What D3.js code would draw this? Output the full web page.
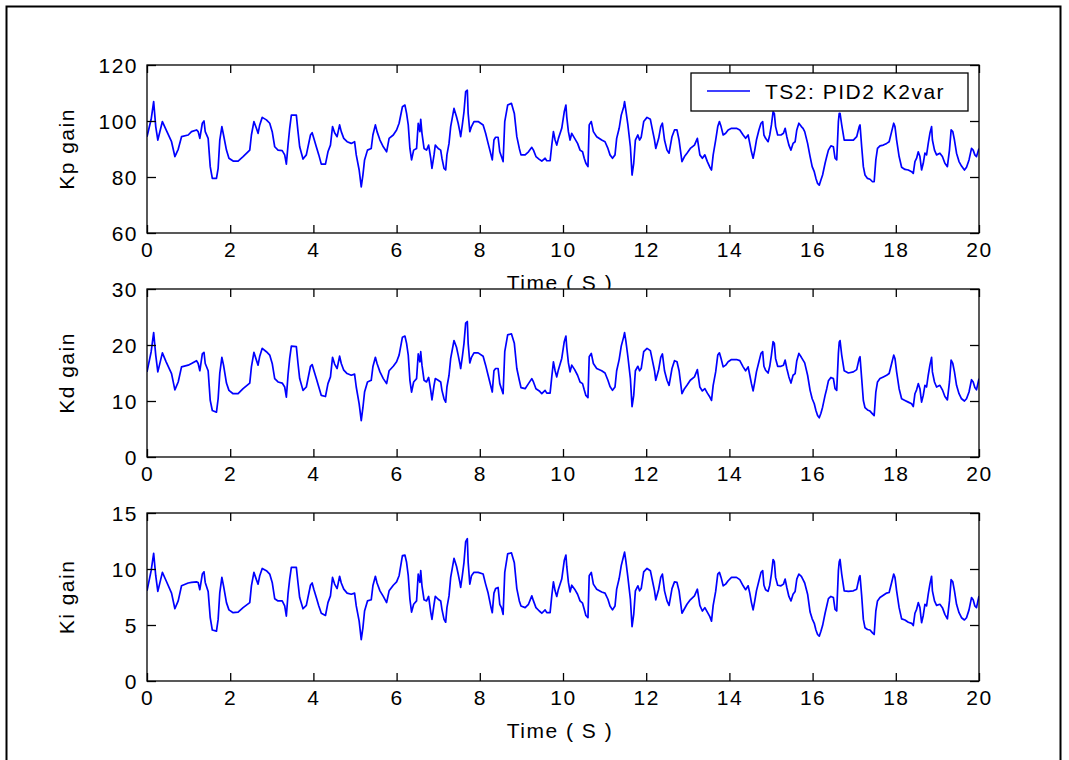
<!DOCTYPE html>
<html>
<head>
<meta charset="utf-8">
<script src="https://cdn.jsdelivr.net/npm/d3@7"></script>
<style>
  body { margin: 0; background: #fff; }
  text { font-family: "Liberation Sans", Arial, sans-serif; font-size: 21px; letter-spacing: 1.5px; fill: #000; }
</style>
</head>
<body>
<svg id="fig" width="1069" height="760"></svg>
<script>
// Sample times (s)
const time = [
  0.00,0.10,0.16,0.21,0.26,0.37,0.46,0.59,0.67,0.75,
  0.83,0.99,1.07,1.19,1.23,1.27,1.33,1.37,1.40,1.47,
  1.52,1.57,1.67,1.71,1.75,1.80,1.84,1.91,1.97,2.07,
  2.19,2.31,2.47,2.51,2.57,2.63,2.67,2.71,2.77,2.87,
  2.95,3.01,3.07,3.15,3.25,3.31,3.35,3.39,3.43,3.47,
  3.59,3.63,3.67,3.75,3.83,3.93,3.97,4.01,4.07,4.13,
  4.19,4.29,4.35,4.41,4.46,4.51,4.57,4.63,4.67,4.73,
  4.81,4.91,4.99,5.03,5.10,5.15,5.19,5.23,5.30,5.39,
  5.43,5.49,5.53,5.60,5.68,5.76,5.82,5.92,6.00,6.06,
  6.14,6.20,6.24,6.28,6.32,6.36,6.41,6.48,
  6.52,6.56,6.58,6.61,6.66,6.72,6.77,6.82,6.85,6.90,
  6.93,7.00,7.06,7.09,7.14,7.18,7.21,7.26,7.30,7.38,
  7.44,7.48,7.52,7.54,7.58,7.62,7.66,7.70,7.72,7.76,
  7.80,7.86,7.96,8.08,8.14,8.20,8.27,8.30,8.34,8.38,
  8.44,8.48,8.52,8.56,8.60,8.67,8.76,8.83,8.89,8.95,
  8.99,9.09,9.17,9.25,9.29,9.35,9.43,9.49,9.57,9.61,
  9.69,9.73,9.77,9.81,9.85,9.89,9.97,10.03,10.07,10.09,
  10.13,10.17,10.21,10.28,10.35,10.41,10.47,10.51,10.55,10.60,
  10.63,10.68,10.73,10.81,10.93,11.01,11.08,11.13,11.19,11.25,
  11.29,11.35,11.40,11.46,11.48,11.51,11.56,11.62,11.66,11.70,
  11.74,11.80,11.84,11.88,11.94,12.02,12.10,12.15,12.20,12.23,
  12.30,12.35,12.39,12.44,12.50,12.55,12.62,12.68,12.74,12.79,
  12.86,12.92,12.98,13.06,13.16,
  13.23,13.29,13.35,13.41,13.47,13.53,13.57,13.61,13.67,13.72,
  13.76,13.80,13.85,13.91,13.97,14.05,14.17,14.25,14.33,14.39,
  14.45,14.49,14.53,14.57,14.61,14.65,14.71,14.76,14.80,14.83,
  14.87,14.93,14.97,15.01,15.05,15.08,15.11,15.16,15.24,15.30,
  15.34,15.38,15.43,15.48,15.53,15.58,15.62,15.67,15.73,15.77,
  15.81,15.88,15.94,15.99,16.04,16.08,16.12,16.16,16.20,16.24,
  16.30,16.34,16.38,16.44,16.50,16.54,16.58,16.62,16.64,16.66,
  16.70,16.76,16.86,16.98,17.06,17.12,17.14,17.18,17.22,17.26,
  17.32,17.38,17.44,17.48,17.52,17.56,17.62,17.70,17.78,17.84,
  17.90,17.95,17.98,18.02,18.08,18.14,18.22,18.30,18.38,18.42,
  18.46,18.50,18.54,18.58,18.62,18.66,18.70,18.74,18.78,18.82,
  18.86,18.88,18.93,18.98,19.06,19.12,19.18,19.24,19.29,19.33,
  19.37,19.41,19.46,19.52,19.58,19.65,19.70,19.76,19.82,19.86,
  19.90,19.94,20.00
];

// Proportional gain Kp
const kp = [
  94.4,100.6,106.9,98.0,93.2,99.8,96.8,92.6,87.3,89.9,
  94.4,95.0,96.2,96.8,96.2,93.8,99.2,100.0,96.2,93.8,
  83.7,79.5,79.5,83.1,93.2,98.0,95.0,89.6,86.7,85.7,
  85.7,87.3,89.6,95.0,99.8,97.4,95.6,98.6,101.3,100.4,
  99.2,96.2,90.8,89.6,89.4,87.9,84.6,91.4,97.4,102.1,
  102.1,96.2,90.8,86.4,87.9,95.0,95.8,93.8,90.8,87.9,
  84.6,84.6,89.0,91.4,98.0,95.8,94.4,98.6,96.2,93.8,
  92.6,92.0,92.6,87.9,82.5,76.5,80.7,86.1,89.6,90.2,
  95.0,98.6,96.2,93.2,90.8,89.0,93.8,95.0,96.8,99.2,
  105.1,105.7,102.7,98.6,90.2,86.1,89.6,90.2,
  99.2,96.2,100.6,95.6,90.2,89.6,91.4,86.7,83.1,87.9,
  91.4,90.2,89.6,86.7,83.1,82.5,87.9,92.0,98.0,104.5,
  101.5,99.2,96.2,94.4,98.6,103.3,110.5,111.0,102.7,96.2,
  98.0,99.8,99.8,98.6,95.6,92.0,87.9,86.1,93.2,94.2,
  94.2,89.0,87.3,85.5,99.8,105.7,106.3,102.7,94.4,90.2,
  87.9,87.9,89.0,90.6,89.6,87.3,86.3,85.7,86.7,85.8,
  85.8,91.4,96.2,93.2,91.4,93.8,97.4,103.3,105.7,101.5,
  96.2,93.2,95.6,93.8,92.0,89.6,89.0,86.7,84.9,83.7,
  98.6,99.8,96.2,94.4,93.2,92.6,90.2,87.9,86.7,87.9,
  93.8,97.4,102.1,105.1,106.9,103.9,98.6,90.8,80.7,84.9,
  93.2,95.0,93.2,94.2,99.8,101.3,100.6,96.8,93.2,90.2,
  93.8,98.0,99.2,93.2,89.6,88.5,94.4,96.8,96.8,93.2,
  85.5,87.3,88.5,90.2,91.4,
  93.8,87.9,86.7,87.9,85.5,83.5,82.5,87.9,93.2,98.0,
  99.8,98.0,95.0,95.6,96.8,97.4,97.4,96.8,95.0,93.8,
  95.0,92.0,89.0,86.7,89.6,93.2,96.8,99.2,99.8,95.0,
  93.8,92.6,95.0,98.6,103.3,102.7,98.0,95.0,95.0,95.6,
  97.4,94.4,91.4,89.6,92.0,92.6,96.8,99.2,98.0,97.4,
  96.2,92.0,87.3,83.7,81.9,79.5,77.7,77.1,78.9,80.7,
  84.9,87.3,89.6,91.1,90.8,86.7,86.1,99.8,102.7,102.7,
  98.6,93.2,93.2,93.2,94.4,98.0,98.6,90.8,83.7,80.7,
  79.5,79.2,78.3,78.3,86.1,90.2,91.1,91.4,92.0,92.6,
  96.2,99.2,98.0,93.2,87.3,83.5,82.7,82.5,81.9,81.3,
  85.5,86.7,89.0,87.3,82.5,84.9,88.5,87.9,92.0,95.6,
  98.0,93.2,89.6,87.9,88.5,87.3,84.9,83.7,89.6,96.8,
  96.2,93.2,88.5,85.5,83.9,82.5,83.5,86.1,90.2,89.6,
  87.9,87.3,90.2
];

// Derivative gain Kd
const kd = [
  15.2,18.8,22.2,18.2,15.2,18.6,17.0,14.9,12.0,13.4,
  16.1,16.4,16.7,17.2,16.7,15.4,18.4,18.7,16.7,15.4,
  10.1,8.3,8.0,10.4,15.0,17.8,16.4,13.2,11.9,11.3,
  11.3,12.2,13.2,16.1,18.7,17.3,16.4,18.0,19.4,18.8,
  18.2,16.7,14.0,13.4,13.2,12.5,10.7,14.6,17.6,19.8,
  19.7,16.7,14.0,11.9,12.5,16.2,16.5,15.5,14.0,12.5,
  11.0,10.8,13.1,14.3,17.8,16.6,15.8,18.0,16.7,15.5,
  14.9,14.6,14.8,12.5,9.5,6.5,8.8,11.6,13.4,13.7,
  16.1,17.8,16.7,15.2,14.0,13.1,15.4,16.2,17.0,18.2,
  21.4,21.6,20.3,18.2,13.7,11.6,13.4,14.0,
  18.4,17.0,18.8,16.4,13.7,13.4,14.2,11.9,10.2,12.8,
  14.0,13.7,13.4,11.9,10.4,9.8,12.5,14.6,17.6,20.8,
  19.6,18.2,16.7,15.8,17.9,20.3,23.9,24.2,20.3,16.8,
  17.8,18.6,18.6,18.0,16.4,14.6,12.5,11.6,15.4,15.8,
  15.8,13.1,12.2,11.3,18.8,21.8,22.0,20.3,15.8,13.7,
  12.4,12.2,13.1,14.0,13.4,12.2,11.8,11.3,11.9,11.4,
  11.4,14.3,17.0,15.4,14.3,15.6,17.6,20.6,21.6,19.6,
  16.8,15.2,16.4,15.6,14.6,13.4,13.1,12.0,11.0,10.6,
  17.9,18.5,16.7,15.8,15.4,15.0,13.7,12.6,11.9,12.5,
  15.4,17.4,19.8,21.5,22.2,20.8,17.9,14.0,9.0,11.0,
  15.4,16.2,15.4,15.8,18.8,19.4,19.0,17.2,15.4,13.7,
  15.6,17.8,18.4,15.4,13.7,12.8,15.8,17.2,17.0,15.4,
  11.3,12.2,12.8,13.7,14.3,
  15.6,12.5,11.8,12.2,11.4,10.7,10.1,12.8,15.2,18.2,
  18.6,17.6,16.1,16.4,17.0,17.4,17.4,17.2,16.1,15.4,
  16.1,14.6,13.1,11.8,13.4,15.2,17.0,18.5,18.8,16.2,
  15.5,15.0,16.2,18.2,20.6,20.3,17.6,16.2,16.2,16.4,
  17.3,15.8,14.3,13.2,14.6,14.9,17.2,18.5,17.8,17.3,
  16.8,14.6,11.9,10.4,9.5,8.3,7.4,7.0,7.8,8.9,
  11.0,12.2,13.6,14.2,14.0,12.2,11.9,18.5,20.5,20.8,
  18.2,15.4,15.0,15.2,15.6,17.6,17.9,14.0,10.1,8.8,
  8.4,8.2,7.7,7.4,11.6,13.4,14.0,14.3,14.6,14.9,
  16.7,18.2,17.6,15.2,12.2,10.4,10.1,9.8,9.5,9.0,
  11.3,12.0,13.1,12.2,9.8,11.0,12.8,12.5,14.6,16.4,
  17.8,15.2,13.4,12.5,12.8,12.0,10.8,10.2,13.4,17.3,
  16.7,15.2,12.8,11.3,10.4,10.0,10.4,11.6,13.8,13.4,
  12.4,12.0,14.0
];

// Integral gain Ki
const ki = [
  8.05,9.85,11.4,9.4,8.0,9.7,8.95,7.85,6.45,7.15,
  8.5,8.75,8.8,8.85,8.8,8.15,9.55,9.75,8.8,8.0,
  5.65,4.55,4.45,5.5,7.9,9.25,8.5,7.0,6.35,6.1,
  6.15,6.55,7.0,8.5,9.7,9.05,8.65,9.4,10.05,9.85,
  9.55,8.8,7.35,7.15,7.15,6.7,5.8,7.75,9.1,10.15,
  10.15,8.75,7.45,6.45,6.75,8.55,8.75,8.2,7.45,6.7,
  6.05,5.85,7.0,7.6,9.25,8.65,8.25,9.35,8.75,8.2,
  7.85,7.75,7.85,6.7,5.35,3.7,4.75,6.25,7.15,7.25,
  8.5,9.35,8.75,8.05,7.55,7.0,8.05,8.55,8.85,9.4,
  11.2,11.25,10.6,9.4,7.3,6.15,6.85,7.15,
  9.55,8.8,9.85,8.5,7.25,7.15,7.55,6.15,5.5,6.85,
  7.55,7.3,7.15,6.4,5.5,5.25,6.55,7.6,9.25,10.95,
  10.25,9.55,8.8,8.35,9.4,10.6,12.45,12.7,10.6,8.65,
  9.4,9.7,9.7,9.55,8.65,7.85,6.55,6.1,7.85,8.25,
  8.35,6.85,6.55,5.95,9.7,11.35,11.45,10.55,8.25,7.15,
  6.7,6.55,6.85,7.6,7.15,6.55,6.25,6.05,6.35,6.1,
  6.1,7.6,8.85,8.05,7.55,8.2,9.1,10.75,11.25,10.25,
  8.8,7.95,8.55,8.2,7.75,7.15,6.95,6.4,5.85,5.65,
  9.4,9.7,8.65,8.2,7.95,7.85,7.3,6.7,6.35,6.7,
  8.2,9.15,10.3,11.2,11.5,10.75,9.25,7.3,4.85,5.95,
  8.05,8.5,8.05,8.25,9.75,10.05,9.85,8.95,8.05,7.25,
  8.2,9.25,9.55,8.05,7.15,6.75,8.25,8.85,8.8,8.05,
  6.05,6.45,6.85,7.25,7.6,
  8.2,6.75,6.25,6.55,6.15,5.75,5.35,6.75,8.0,9.55,
  9.7,9.25,8.5,8.65,8.95,9.25,9.25,9.05,8.5,8.15,
  8.5,7.85,7.0,6.35,7.15,8.05,8.95,9.7,9.85,8.55,
  8.15,8.0,8.55,9.55,10.85,10.65,9.25,8.55,8.5,8.65,
  9.1,8.35,7.55,7.15,7.75,8.0,9.1,9.55,9.35,9.05,
  8.75,7.75,6.15,5.55,5.15,4.55,4.15,4.0,4.45,4.95,
  6.05,6.7,7.35,7.55,7.45,6.4,6.25,9.85,10.65,10.85,
  9.55,8.05,8.0,8.05,8.2,9.25,9.4,7.6,5.5,4.75,
  4.6,4.55,4.3,4.15,6.25,7.15,7.45,7.65,7.85,7.9,
  8.8,9.55,9.25,8.05,6.55,5.55,5.45,5.25,5.15,4.95,
  6.05,6.4,7.0,6.55,5.2,5.85,6.85,6.7,7.75,8.65,
  9.35,8.05,7.15,6.75,6.85,6.55,5.95,5.55,7.15,9.05,
  8.85,8.05,6.85,6.1,5.65,5.45,5.65,6.35,7.45,7.25,
  6.7,6.55,7.6
];

const timeTicks = [0, 2, 4, 6, 8, 10, 12, 14, 16, 18, 20];
const kpTicks = [60, 80, 100, 120];
const kdTicks = [0, 10, 20, 30];
const kiTicks = [0, 5, 10, 15];
const legendLabel = "TS2: PID2 K2var";
const xLabel = "Time ( S )";

// Subplot layout
const left = 147, right = 979, plotH = 168;
const panels = [
  { values: kp, domain: [60, 120], ticks: kpTicks, ylabel: "Kp gain", top: 65,  xlabel: true, legend: true },
  { values: kd, domain: [0, 30],   ticks: kdTicks, ylabel: "Kd gain", top: 289, xlabel: false },
  { values: ki, domain: [0, 15],   ticks: kiTicks, ylabel: "Ki gain", top: 513, xlabel: true }
];

const svg = d3.select("#fig");
svg.append("rect").attr("width", 1069).attr("height", 760).attr("fill", "#fff");

// Figure frame
svg.append("rect")
  .attr("x", 6.5).attr("y", 6.5).attr("width", 1054).attr("height", 800)
  .attr("fill", "none").attr("stroke", "#000").attr("stroke-width", 2);

const x = d3.scaleLinear().domain([0, 20]).range([left, right]);
const xTickLen = 8, yTickLen = 9;

panels.forEach((p, i) => {
  const top = p.top, bottom = top + plotH;
  const y = d3.scaleLinear().domain(p.domain).range([bottom, top]);
  const g = svg.append("g");

  g.append("rect").attr("x", left).attr("y", top)
    .attr("width", right - left).attr("height", plotH).attr("fill", "#fff");

  const clipId = "clip" + i;
  g.append("clipPath").attr("id", clipId).append("rect")
    .attr("x", left).attr("y", top).attr("width", right - left).attr("height", plotH);

  const pts = d3.zip(time, p.values);
  g.append("path")
    .datum(pts)
    .attr("clip-path", `url(#${clipId})`)
    .attr("fill", "none").attr("stroke", "#0000ff").attr("stroke-width", 1.7)
    .attr("stroke-linejoin", "round")
    .attr("d", d3.line().x(d => x(d[0])).y(d => y(d[1])));

  // Bottom axis with labels, inward ticks
  const xb = g.append("g").attr("transform", `translate(0,${bottom})`)
    .call(d3.axisBottom(x).tickValues(timeTicks).tickSize(-xTickLen).tickPadding(8).tickFormat(d3.format("d")));
  const xt = g.append("g").attr("transform", `translate(0,${top})`)
    .call(d3.axisTop(x).tickValues(timeTicks).tickSize(-xTickLen).tickFormat(""));
  const yl = g.append("g").attr("transform", `translate(${left},0)`)
    .call(d3.axisLeft(y).tickValues(p.ticks).tickSize(-yTickLen).tickPadding(10).tickFormat(d3.format("d")));
  const yr = g.append("g").attr("transform", `translate(${right},0)`)
    .call(d3.axisRight(y).tickValues(p.ticks).tickSize(-yTickLen).tickFormat(""));

  [xb, xt, yl, yr].forEach(a => {
    a.select(".domain").remove();
    a.selectAll("line").attr("stroke", "#000").attr("stroke-width", 1.3);
    a.selectAll("text").attr("font-family", null).attr("font-size", null).attr("fill", "#000");
  });
  xb.selectAll("text").attr("dy", null).attr("y", 24);
  yl.selectAll("text").attr("dy", "0.35em").attr("x", -9);

  // Box
  g.append("rect").attr("x", left).attr("y", top)
    .attr("width", right - left).attr("height", plotH)
    .attr("fill", "none").attr("stroke", "#000").attr("stroke-width", 1.3);

  // Y label
  g.append("text")
    .attr("transform", `translate(74,${(top + bottom) / 2}) rotate(-90)`)
    .attr("text-anchor", "middle").text(p.ylabel);

  if (p.xlabel) {
    g.append("text").attr("x", (left + right) / 2 - 3).attr("y", bottom + 57)
      .attr("text-anchor", "middle").text(xLabel);
  }

  if (p.legend) {
    const lg = g.append("g");
    lg.append("rect").attr("x", 691).attr("y", 73).attr("width", 277).attr("height", 38)
      .attr("fill", "#fff").attr("stroke", "#000").attr("stroke-width", 1.3);
    lg.append("line").attr("x1", 707).attr("x2", 750).attr("y1", 91).attr("y2", 91)
      .attr("stroke", "#0000ff").attr("stroke-width", 1.5);
    lg.append("text").attr("x", 765).attr("y", 99).text(legendLabel);
  }
});
</script>
</body>
</html>
